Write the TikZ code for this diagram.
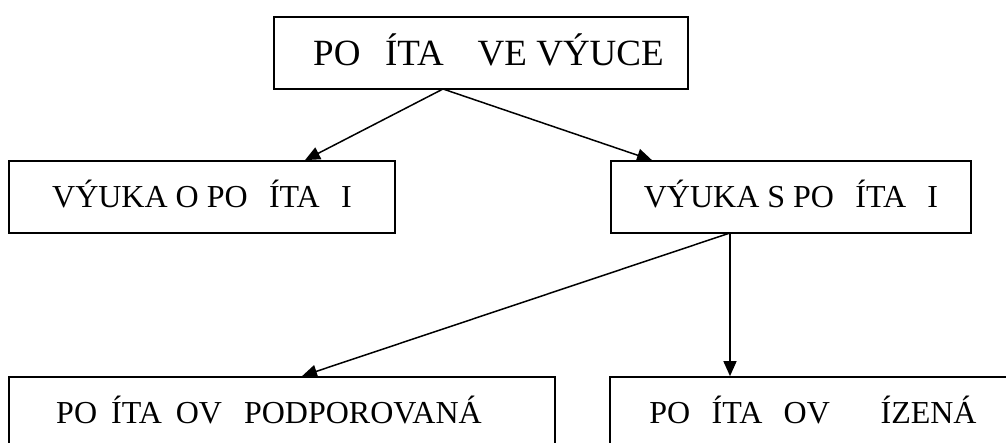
\documentclass[tikz,border=0pt]{standalone}
\usepackage{fontspec}
\setmainfont{Liberation Serif}
\usetikzlibrary{arrows.meta}
% blank space where a letter is left out of the label
\newcommand\lettergap{\phantom{Č}}
\newcommand\narrowgap{\hspace{14pt}}
\begin{document}
\begin{tikzpicture}[x=1pt,y=-1pt,
  box/.style={draw=black, line width=1.7pt, inner sep=0pt, minimum height=72pt,
    text depth=6pt, font=\fontsize{32}{36}\selectfont},
  link/.style={line width=1.5pt, -{Triangle[length=15pt,width=13pt]}}]
\useasboundingbox (0,0) rectangle (1006,443);
\clip (0,0) rectangle (1006,443);
\node[box, minimum width=414pt, font=\fontsize{37}{41}\selectfont] (top) at (481,53) {\hspace{15pt}PO\lettergap ÍTA\lettergap{} VE VÝUCE};
\node[box, minimum width=386pt] (about) at (202,197) {VÝUKA O PO\lettergap ÍTA\lettergap I};
\node[box, minimum width=360pt] (with) at (791,197) {VÝUKA S PO\lettergap ÍTA\lettergap I};
\node[box, minimum width=546pt] (aided) at (282,413) {PO\narrowgap ÍTA\narrowgap OV\narrowgap{} PODPOROVANÁ\kern26pt\relax};
\node[box, minimum width=406pt] (driven) at (813,413) {PO\lettergap ÍTA\lettergap OV\lettergap{} \lettergap ÍZENÁ};
\coordinate (fork) at (443,89);
\coordinate (split) at (730,233);
\draw[link] (fork) -- (about.north -| 305,0);
\draw[link] (fork) -- (with.north -| 652,0);
\draw[link] (split) -- (aided.north -| 302,0);
\draw[link] (split) -- (driven.north -| split);
\end{tikzpicture}
\end{document}
